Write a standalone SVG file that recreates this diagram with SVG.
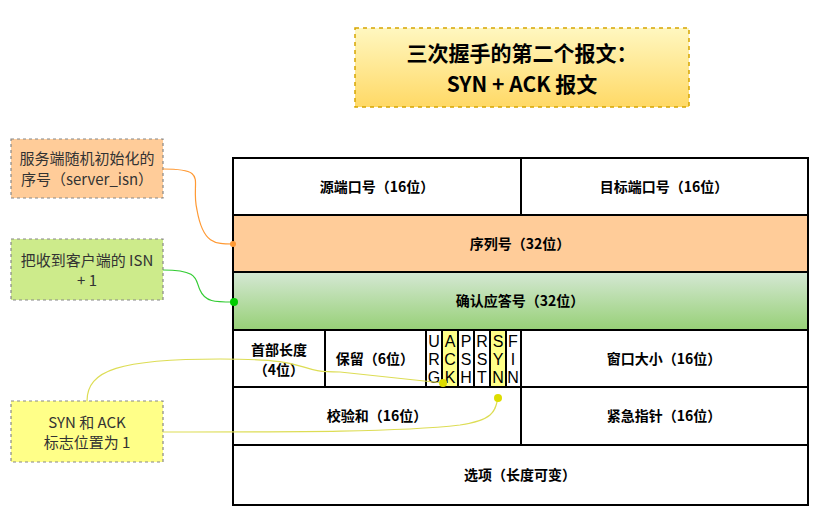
<svg xmlns="http://www.w3.org/2000/svg" width="828" height="517" viewBox="0 0 828 517">
<defs>
<linearGradient id="tg" x1="0" y1="0" x2="0" y2="1"><stop offset="0" stop-color="#fff7c0"/><stop offset="1" stop-color="#ffd966"/></linearGradient>
<linearGradient id="gg" x1="0" y1="0" x2="0" y2="1"><stop offset="0" stop-color="#d5e8d4"/><stop offset="1" stop-color="#97d077"/></linearGradient>
<style>
text{font-family:"Noto Sans CJK SC","Noto Sans",sans-serif;font-size:14px;fill:#000}
.c{text-anchor:middle}
.b{font-weight:bold}
.n{font-size:15px;fill:#333}
.cell{stroke:#000;stroke-width:2;fill:#fff}
.note{stroke:#888;stroke-width:1.2;stroke-dasharray:3 3}
.flag{font-family:"Liberation Sans",sans-serif;font-size:16px}
</style>
</defs>
<g id="title"><rect x="355" y="28" width="334" height="79" fill="url(#tg)" stroke="#d6a500" stroke-width="1.5" stroke-dasharray="4 4"/>
<text x="522" y="61" class="c" style="font-size:21px;font-weight:bold">三次握手的第二个报文：</text>
<text x="522" y="92" class="c" style="font-size:21px;font-weight:bold">SYN + ACK 报文</text></g>
<g id="row1"><rect class="cell" x="233" y="158" width="288" height="57"/><text x="377" y="192" class="c b">源端口号（16位）</text>
<rect class="cell" x="521" y="158" width="287" height="57"/><text x="664" y="192" class="c b">目标端口号（16位）</text></g>
<g id="seq"><rect class="cell" x="233" y="215" width="575" height="57" style="fill:#ffcc99"/><text x="520" y="249" class="c b">序列号（32位）</text></g>
<g id="ack"><rect class="cell" x="233" y="272" width="575" height="58" style="fill:url(#gg)"/><text x="520" y="306" class="c b">确认应答号（32位）</text></g>
<g id="row4">
<rect class="cell" x="233" y="330" width="92" height="57"/><text x="279" y="355" class="c b">首部长度</text><text x="279" y="375" class="c b">（4位）</text>
<rect class="cell" x="325" y="330" width="101" height="57"/><text x="375" y="364" class="c b">保留（6位）</text>
<rect class="cell" x="426" y="330" width="16" height="57"/>
<rect class="cell" x="442" y="330" width="16" height="57" style="fill:#ffff88"/>
<rect class="cell" x="458" y="330" width="16" height="57"/>
<rect class="cell" x="474" y="330" width="16" height="57"/>
<rect class="cell" x="490" y="330" width="16" height="57" style="fill:#ffff88"/>
<rect class="cell" x="506" y="330" width="15" height="57"/>
<g>
<text x="434" y="347" class="c flag">U</text><text x="434" y="365" class="c flag">R</text><text x="434" y="383" class="c flag">G</text>
<text x="450" y="347" class="c flag">A</text><text x="450" y="365" class="c flag">C</text><text x="450" y="383" class="c flag">K</text>
<text x="466" y="347" class="c flag">P</text><text x="466" y="365" class="c flag">S</text><text x="466" y="383" class="c flag">H</text>
<text x="482" y="347" class="c flag">R</text><text x="482" y="365" class="c flag">S</text><text x="482" y="383" class="c flag">T</text>
<text x="498" y="347" class="c flag">S</text><text x="498" y="365" class="c flag">Y</text><text x="498" y="383" class="c flag">N</text>
<text x="513" y="347" class="c flag">F</text><text x="513" y="365" class="c flag">I</text><text x="513" y="383" class="c flag">N</text>
</g>
<rect class="cell" x="521" y="330" width="287" height="57"/><text x="664" y="364" class="c b">窗口大小（16位）</text></g>
<g id="row5"><rect class="cell" x="233" y="387" width="288" height="58"/><text x="377" y="421" class="c b">校验和（16位）</text>
<rect class="cell" x="521" y="387" width="287" height="58"/><text x="664" y="421" class="c b">紧急指针（16位）</text></g>
<g id="opt"><rect class="cell" x="233" y="445" width="575" height="60"/><text x="520" y="480" class="c b">选项（长度可变）</text></g>
<g id="n1"><rect class="note" x="11" y="139" width="152" height="59" fill="#ffcc99"/><text x="87" y="164" class="c n">服务端随机初始化的</text><text x="87" y="185" class="c n">序号（server_isn）</text></g>
<g id="n2"><rect class="note" x="11" y="239" width="152" height="61" fill="#cdeb8b"/><text x="87" y="266" class="c n">把收到客户端的 ISN</text><text x="87" y="286" class="c n">+ 1</text></g>
<g id="n3"><rect class="note" x="11" y="401" width="152" height="61" fill="#ffff88"/><text x="87" y="428" class="c n">SYN 和 ACK</text><text x="87" y="448" class="c n">标志位置为 1</text></g>
<g id="connectors" fill="none" stroke-width="1.2">
<path d="M163,169 C210,169 190,180 197,210 C203,244 215,244 233,244" stroke="#ff9933"/>
<circle cx="233" cy="244" r="3" fill="#ff9933" stroke="none"/>
<path d="M163,270 C200,270 195,280 200,290 C205,302 215,302 233,302" stroke="#33cc33"/>
<circle cx="234" cy="302" r="4" fill="#00cc00" stroke="none"/>
<path d="M87,401 C87,370 120,359 220,359 C320,359 290,372 340,372 L443,383" stroke="#dddd55"/>
<circle cx="443" cy="383" r="4" fill="#dddd00" stroke="none"/>
<path d="M163,432 C300,432 400,432 460,425 C495,420 495,410 498,398" stroke="#dddd55"/>
<circle cx="498" cy="398" r="4" fill="#dddd00" stroke="none"/>
</g>
</svg>
